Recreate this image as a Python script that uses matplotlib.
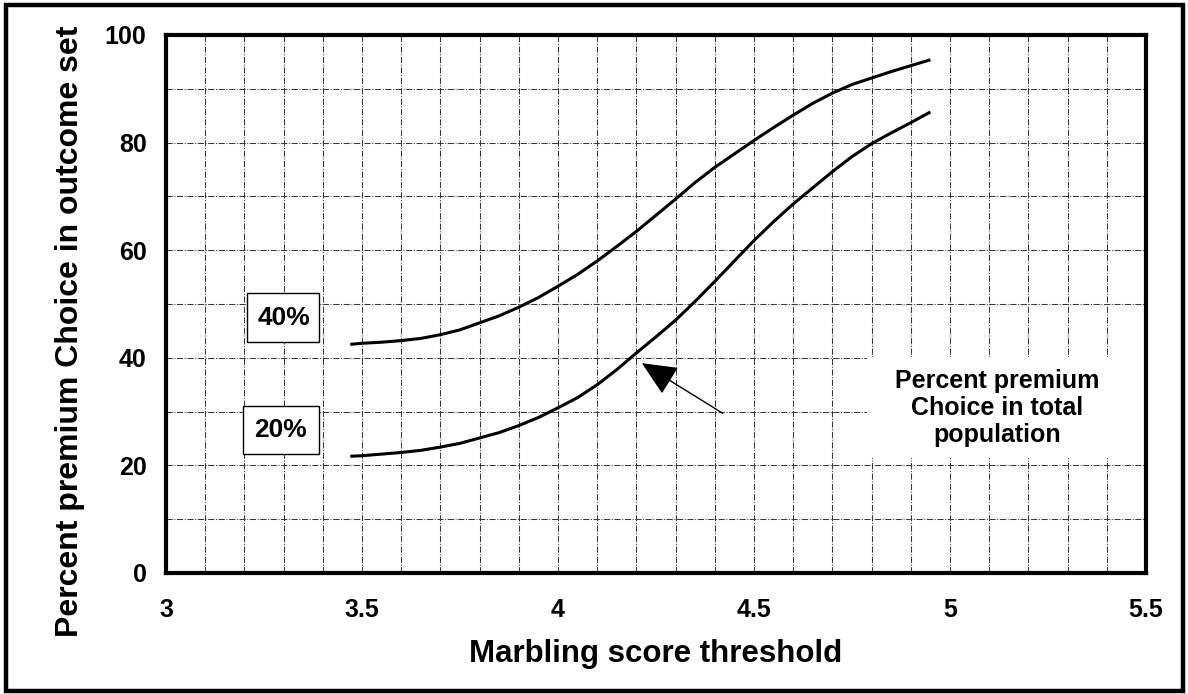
import matplotlib
matplotlib.use("Agg")
import matplotlib.pyplot as plt
from matplotlib.patches import Rectangle

# ---------------- data ----------------
marbling = [3.47, 3.5, 3.55, 3.6, 3.65, 3.7, 3.75, 3.8, 3.85, 3.9, 3.95, 4.0, 4.05,
            4.1, 4.15, 4.2, 4.25, 4.3, 4.35, 4.4, 4.45, 4.5, 4.55, 4.6, 4.65,
            4.7, 4.75, 4.8, 4.85, 4.9, 4.95]
pct_40 = [42.5, 42.7, 42.9, 43.2, 43.6, 44.3, 45.2, 46.5, 47.8, 49.4, 51.2, 53.3, 55.5,
          58.0, 60.7, 63.5, 66.5, 69.5, 72.6, 75.4, 77.9, 80.4, 82.8, 85.1, 87.3,
          89.2, 90.8, 92.0, 93.2, 94.3, 95.4]
pct_20 = [21.7, 21.8, 22.1, 22.4, 22.8, 23.4, 24.1, 25.1, 26.1, 27.4, 28.9, 30.7, 32.6,
          35.0, 37.8, 40.9, 43.9, 47.0, 50.5, 54.2, 58.0, 61.8, 65.3, 68.6, 71.6,
          74.6, 77.4, 79.8, 81.8, 83.7, 85.7]

x_ticks = [3, 3.5, 4, 4.5, 5, 5.5]
x_tick_labels = ["3", "3.5", "4", "4.5", "5", "5.5"]
y_ticks = [0, 20, 40, 60, 80, 100]
y_tick_labels = ["0", "20", "40", "60", "80", "100"]

series_labels = ["40%", "20%"]
x_label = "Marbling score threshold"
y_label = "Percent premium Choice in outcome set"
note_text = "Percent premium\nChoice in total\npopulation"

# ---------------- figure ----------------
FONT = "Liberation Sans"
plt.rcParams["font.family"] = [FONT, "DejaVu Sans"]
plt.rcParams["font.weight"] = "bold"

W, H = 1188, 694
fig = plt.figure(figsize=(W / 100, H / 100), dpi=100)
ax = fig.add_axes([166 / W, 1 - 573 / H, (1146 - 166) / W, (573 - 35) / H])

ax.set_xlim(3, 5.5)
ax.set_ylim(0, 100)

# grid
ax.set_xticks(x_ticks)
ax.set_xticklabels(x_tick_labels)
ax.set_yticks(y_ticks)
ax.set_yticklabels(y_tick_labels)
ax.set_xticks([3 + 0.1 * i for i in range(26)], minor=True)
ax.set_yticks([10 * i for i in range(11)], minor=True)
grid_kw = dict(color="#3a3a3a", linewidth=0.75, linestyle=(0, (6, 1.5, 1, 1.5)))
ax.grid(True, which="both", **grid_kw)
ax.set_axisbelow(True)

ax.tick_params(axis="both", which="both", length=0)
ax.tick_params(axis="x", labelsize=18, pad=18)
ax.tick_params(axis="y", labelsize=18, pad=14)
for lab in ax.get_xticklabels() + ax.get_yticklabels():
    lab.set_fontweight("bold")

for sp in ax.spines.values():
    sp.set_linewidth(3.0)
    sp.set_color("black")
    sp.set_zorder(6)

# curves
ax.plot(marbling, pct_40, color="black", linewidth=2.2, zorder=4,
        solid_capstyle="butt", solid_joinstyle="round")
ax.plot(marbling, pct_20, color="black", linewidth=2.2, zorder=4,
        solid_capstyle="butt", solid_joinstyle="round")

# series label boxes
ax.add_patch(Rectangle((3.207, 42.9), 0.183, 9.1, facecolor="white",
                       edgecolor="black", linewidth=1.0, zorder=3))
ax.text(3.30, 47.4, series_labels[0], ha="center", va="center",
        fontsize=19, fontweight="bold", zorder=5)
ax.add_patch(Rectangle((3.196, 22.1), 0.194, 8.9, facecolor="white",
                       edgecolor="black", linewidth=1.0, zorder=3))
ax.text(3.293, 26.6, series_labels[1], ha="center", va="center",
        fontsize=19, fontweight="bold", zorder=5)

# note box
ax.add_patch(Rectangle((4.788, 21.4), 5.5 - 4.788, 18.7, facecolor="white",
                       edgecolor="none", zorder=3))
ax.text(5.12, 30.7, note_text, ha="center", va="center", fontsize=18,
        fontweight="bold", linespacing=1.15, zorder=5)

# arrow
ax.annotate("", xy=(4.214, 39.0), xytext=(4.42, 29.7),
            arrowprops=dict(arrowstyle="-|>,head_length=1.1,head_width=0.5",
                            mutation_scale=20, lw=1.0, color="black",
                            shrinkA=0, shrinkB=0), zorder=5)

# axis labels
fig.text(656 / W, 1 - 654 / H, x_label, ha="center", va="center",
         fontsize=22.5, fontweight="bold")
fig.text(70 / W, 1 - 331 / H, y_label, ha="center", va="center",
         rotation=90, fontsize=23, fontweight="bold")

# outer frame
fig.patches.append(Rectangle((6 / W, 1 - 691 / H), (1183 - 6) / W, (691 - 5) / H,
                             transform=fig.transFigure, fill=False,
                             edgecolor="black", linewidth=3.2, zorder=10))

fig.savefig("out.png", dpi=100)
